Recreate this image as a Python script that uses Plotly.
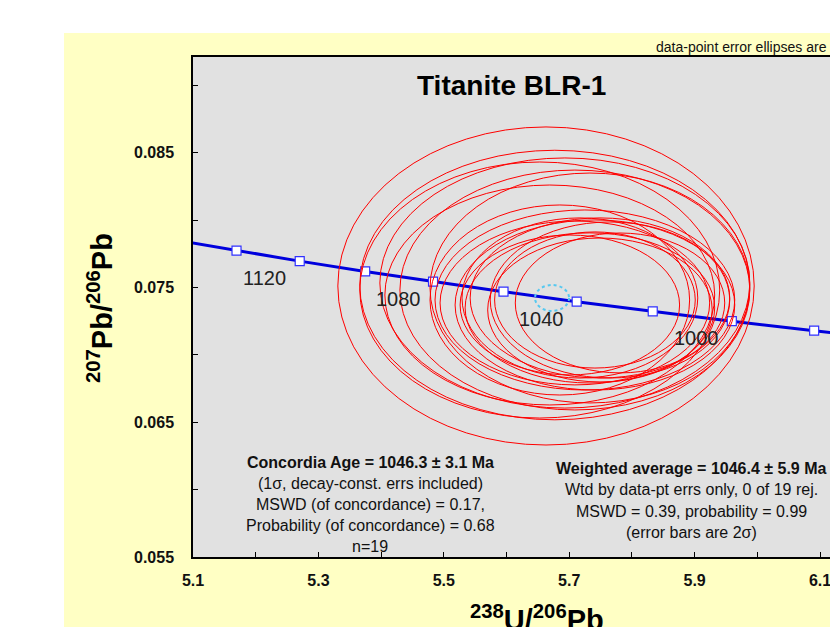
import plotly.graph_objects as go

# ---------------- data ----------------
# Concordia curve (Tera-Wasserburg) points, age in Ma
conc_age = [1160, 1140, 1120, 1100, 1080, 1060, 1040, 1020, 1000, 980, 960]
conc_x = [5.0722, 5.1694, 5.2702, 5.3746, 5.4828, 5.5952, 5.7119, 5.8332, 5.9593, 6.0906, 6.2274]
conc_y = [0.078517, 0.077732, 0.076954, 0.076187, 0.075430, 0.074684, 0.073947, 0.073219, 0.072500, 0.071790, 0.071090]
label_ages = [1120, 1080, 1040, 1000]

# Data-point error ellipses: centre (238U/206Pb, 207Pb/206Pb) and half-axes
ell_cx = [5.663, 5.677, 5.693, 5.653, 5.709, 5.669, 5.733, 5.725, 5.741, 5.709,
          5.749, 5.733, 5.765, 5.717, 5.749, 5.701, 5.781, 5.741, 5.685]
ell_cy = [0.07511, 0.07518, 0.07533, 0.07481, 0.07481, 0.07444, 0.07496, 0.07407, 0.07370, 0.07385,
          0.07422, 0.07348, 0.07407, 0.07422, 0.07333, 0.07370, 0.07385, 0.07407, 0.07407]
ell_sx = [0.332, 0.311, 0.295, 0.287, 0.279, 0.263, 0.255, 0.239, 0.223, 0.215,
          0.207, 0.199, 0.191, 0.188, 0.179, 0.175, 0.167, 0.160, 0.207]
ell_sy = [0.01180, 0.01000, 0.00928, 0.00950, 0.00890, 0.00816, 0.00853, 0.00668, 0.00631, 0.00608,
          0.00594, 0.00557, 0.00579, 0.00594, 0.00534, 0.00519, 0.00519, 0.00505, 0.00705]

# Concordia age ellipse
cage_x, cage_y, cage_sx, cage_sy = 5.6726, 0.07422, 0.0271, 0.00096

x_range = [5.1, 6.1159]
y_range = [0.055, 0.0921]
x_ticks = [5.1, 5.3, 5.5, 5.7, 5.9, 6.1]
y_ticks = [0.055, 0.065, 0.075, 0.085]

concordia_lines = ["<b>Concordia Age = 1046.3 ± 3.1 Ma</b>",
                   "(1σ, decay-const. errs included)",
                   "MSWD (of concordance) = 0.17,",
                   "Probability (of concordance) = 0.68",
                   "n=19"]
wtd_lines = ["<b>Weighted average = 1046.4 ± 5.9 Ma</b>",
             "Wtd by data-pt errs only, 0 of 19 rej.",
             "MSWD = 0.39, probability = 0.99",
             "(error bars are 2σ)"]

# ---------------- layout geometry (pixels) ----------------
W, H = 830, 627
L, T, B = 193, 57, 557
PW, PH = W - L, B - T

def px(xp):
    return (xp - L) / PW

def py(yp):
    return (B - yp) / PH

FONT = "Arial, Liberation Sans, sans-serif"

fig = go.Figure()

shapes = [
    dict(type="rect", xref="paper", yref="paper", x0=px(64), x1=px(W + 5), y0=py(H + 5), y1=py(33),
         fillcolor="#FFFFC4", line=dict(width=0), layer="below"),
    dict(type="rect", xref="paper", yref="paper", x0=0, x1=1, y0=0, y1=1,
         fillcolor="#E1E1E1", line=dict(width=0), layer="below"),
]
for cx, cy, sx, sy in zip(ell_cx, ell_cy, ell_sx, ell_sy):
    shapes.append(dict(type="circle", xref="x", yref="y", x0=cx - sx, x1=cx + sx,
                       y0=cy - sy, y1=cy + sy, line=dict(color="#FF0000", width=1)))
shapes.append(dict(type="circle", xref="x", yref="y", x0=cage_x - cage_sx, x1=cage_x + cage_sx,
                   y0=cage_y - cage_sy, y1=cage_y + cage_sy,
                   line=dict(color="#55C8F0", width=2, dash="dot")))

fig.add_trace(go.Scatter(x=conc_x, y=conc_y, mode="lines",
                         line=dict(color="#0000DD", width=3), hoverinfo="skip"))
fig.add_trace(go.Scatter(x=conc_x, y=conc_y, mode="markers",
                         marker=dict(symbol="square", size=9, color="white",
                                     line=dict(color="#3030FF", width=1.2)),
                         hoverinfo="skip"))

ann = []
for a in label_ages:
    i = conc_age.index(a)
    ann.append(dict(x=conc_x[i], y=conc_y[i], xref="x", yref="y", text=str(a), showarrow=False,
                    xanchor="center", yanchor="middle",
                    xshift=-35, yshift=-17, font=dict(family=FONT, size=20, color="#222222")))

def add_text(xp, yp, text, size, color="#111111", anchor="center", angle=0):
    ann.append(dict(x=px(xp), y=py(yp), xref="paper", yref="paper", text=text,
                    xanchor=anchor, yanchor="middle", textangle=angle, showarrow=False,
                    font=dict(family=FONT, size=size, color=color)))

add_text(512, 85, "<b>Titanite BLR-1</b>", 28, "#000000")
add_text(654, 47, "data-point error ellipses are 2σ", 14, anchor="left")
for k, t in enumerate(concordia_lines):
    add_text(370, 462 + 21 * k, t, 16)
for k, t in enumerate(wtd_lines):
    add_text(691, 468 + 21.5 * k, t, 16)
add_text(100, 308, "<b><sup>207</sup>Pb/<sup>206</sup>Pb</b>", 29, "#000000", angle=-90)
add_text(537, 618, "<b><sup>238</sup>U/<sup>206</sup>Pb</b>", 29, "#000000")

fig.update_layout(
    width=W, height=H,
    margin=dict(l=L, r=0, t=T, b=H - B, pad=0),
    paper_bgcolor="white", plot_bgcolor="rgba(0,0,0,0)",
    showlegend=False,
    shapes=shapes, annotations=ann,
    xaxis=dict(range=x_range, tickvals=x_ticks, ticktext=[f"{v:.1f}" for v in x_ticks],
               ticks="inside", ticklen=5, tickcolor="#000", tickwidth=1,
               minor=dict(dtick=0.1, tick0=5.1, ticks="inside", ticklen=5, tickcolor="#000"),
               showgrid=False, zeroline=False, showline=True, linecolor="#000", linewidth=1.5,
               mirror=True, ticklabelstandoff=8, ticklabeloverflow="allow",
               tickfont=dict(family=FONT, size=16, color="#111111", weight="bold")),
    yaxis=dict(range=y_range, tickvals=y_ticks, ticktext=[f"{v:.3f}" for v in y_ticks],
               ticks="inside", ticklen=5, tickcolor="#000", tickwidth=1,
               minor=dict(dtick=0.005, tick0=0.055, ticks="inside", ticklen=5, tickcolor="#000"),
               showgrid=False, zeroline=False, showline=True, linecolor="#000", linewidth=1.5,
               ticklabelstandoff=14, ticklabeloverflow="allow",
               tickfont=dict(family=FONT, size=16, color="#111111", weight="bold")),
)

fig.write_html("out.html", config={"displayModeBar": False},
               post_script="document.body.style.margin='0';")
